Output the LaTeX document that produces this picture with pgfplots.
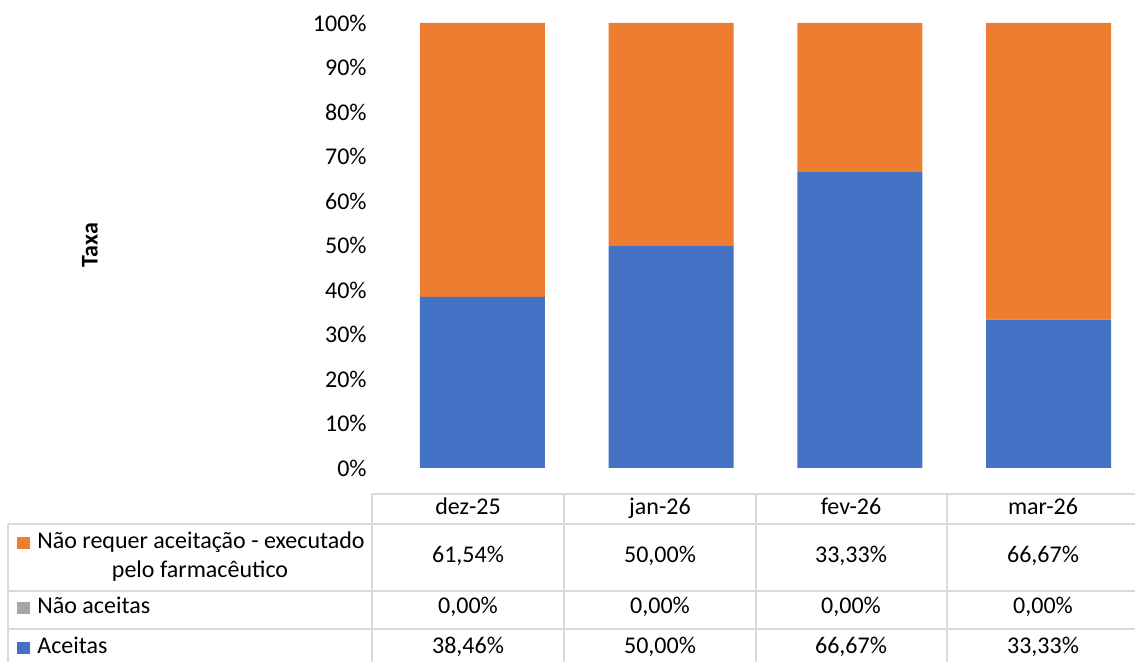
\documentclass[border=0pt]{standalone}
\usepackage{pgfplots}
\pgfplotsset{compat=1.18}
\usepackage{fontspec}
\setmainfont{Carlito}

\definecolor{aceitas}{HTML}{4472C4}
\definecolor{naoaceitas}{HTML}{A5A5A5}
\definecolor{naoreq}{HTML}{ED7D31}
\definecolor{gridc}{HTML}{D9D9D9}

\begin{document}
\fontsize{12pt}{14pt}\selectfont
\begin{tikzpicture}
\useasboundingbox (0,0) rectangle (567.5pt,331pt);

\begin{axis}[
    at={(186.5pt,97pt)}, anchor=south west,
    scale only axis,
    width=381pt, height=222.5pt,
    xmin=-0.580, xmax=3.458,
    ymin=0, ymax=100,
    ybar stacked,
    bar width=62.5pt,
    axis line style={draw=none},
    major tick length=0pt,
    xtick=\empty,
    ytick={0,10,...,100},
    yticklabel={\pgfmathprintnumber{\tick}\%},
    /pgf/number format/assume math mode=true,
    yticklabel style={font=\fontsize{12pt}{14pt}\selectfont, text=black, inner sep=3pt},
    clip=false,
]
\addplot[fill=aceitas, draw=none] coordinates {(0,38.46) (1,50.00) (2,66.67) (3,33.33)};
\addplot[fill=naoaceitas, draw=none] coordinates {(0,0) (1,0) (2,0) (3,0)};
\addplot[fill=naoreq, draw=none] coordinates {(0,61.54) (1,50.00) (2,33.33) (3,66.67)};
\end{axis}

\node[rotate=90, anchor=center, font=\bfseries] at (45pt,208.5pt) {Taxa};

% data table
\begin{scope}[gridc, line width=1pt]
\draw (186pt,84pt) -- (567.5pt,84pt);
\draw (4pt,69pt) -- (567.5pt,69pt);
\draw (4pt,35.5pt) -- (567.5pt,35.5pt);
\draw (4pt,16.5pt) -- (567.5pt,16.5pt);
\draw (4pt,69pt) -- (4pt,0pt);
\foreach \x in {186,282,378,473.5} \draw (\x pt,84pt) -- (\x pt,0pt);
\end{scope}

\foreach \x/\t in {234/dez-25,330/jan-26,425.5/fev-26,521.5/mar-26}
  \node[anchor=mid, inner sep=0pt] at (\x pt,76.5pt) {\t};
\foreach \x/\t in {234/61{,}54\%,330/50{,}00\%,425.5/33{,}33\%,521.5/66{,}67\%}
  \node[anchor=mid, inner sep=0pt] at (\x pt,52.5pt) {\t};
\foreach \x/\t in {234/0{,}00\%,330/0{,}00\%,425.5/0{,}00\%,521.5/0{,}00\%}
  \node[anchor=mid, inner sep=0pt] at (\x pt,27pt) {\t};
\foreach \x/\t in {234/38{,}46\%,330/50{,}00\%,425.5/66{,}67\%,521.5/33{,}33\%}
  \node[anchor=mid, inner sep=0pt] at (\x pt,7pt) {\t};

\fill[naoreq] (8.5pt,56.25pt) rectangle ++(6.3pt,6.3pt);
\fill[naoaceitas] (8.5pt,23.75pt) rectangle ++(6.3pt,6.3pt);
\fill[aceitas] (8.5pt,3.75pt) rectangle ++(6.3pt,6.3pt);
\node[anchor=mid west, inner sep=0pt] at (18.5pt,59.5pt) {Não requer aceitação - executado};
\node[anchor=mid, inner sep=0pt] at (100pt,45pt) {pelo farmacêutico};
\node[anchor=mid west, inner sep=0pt] at (18.5pt,27pt) {Não aceitas};
\node[anchor=mid west, inner sep=0pt] at (18.5pt,7pt) {Aceitas};
\end{tikzpicture}
\end{document}
